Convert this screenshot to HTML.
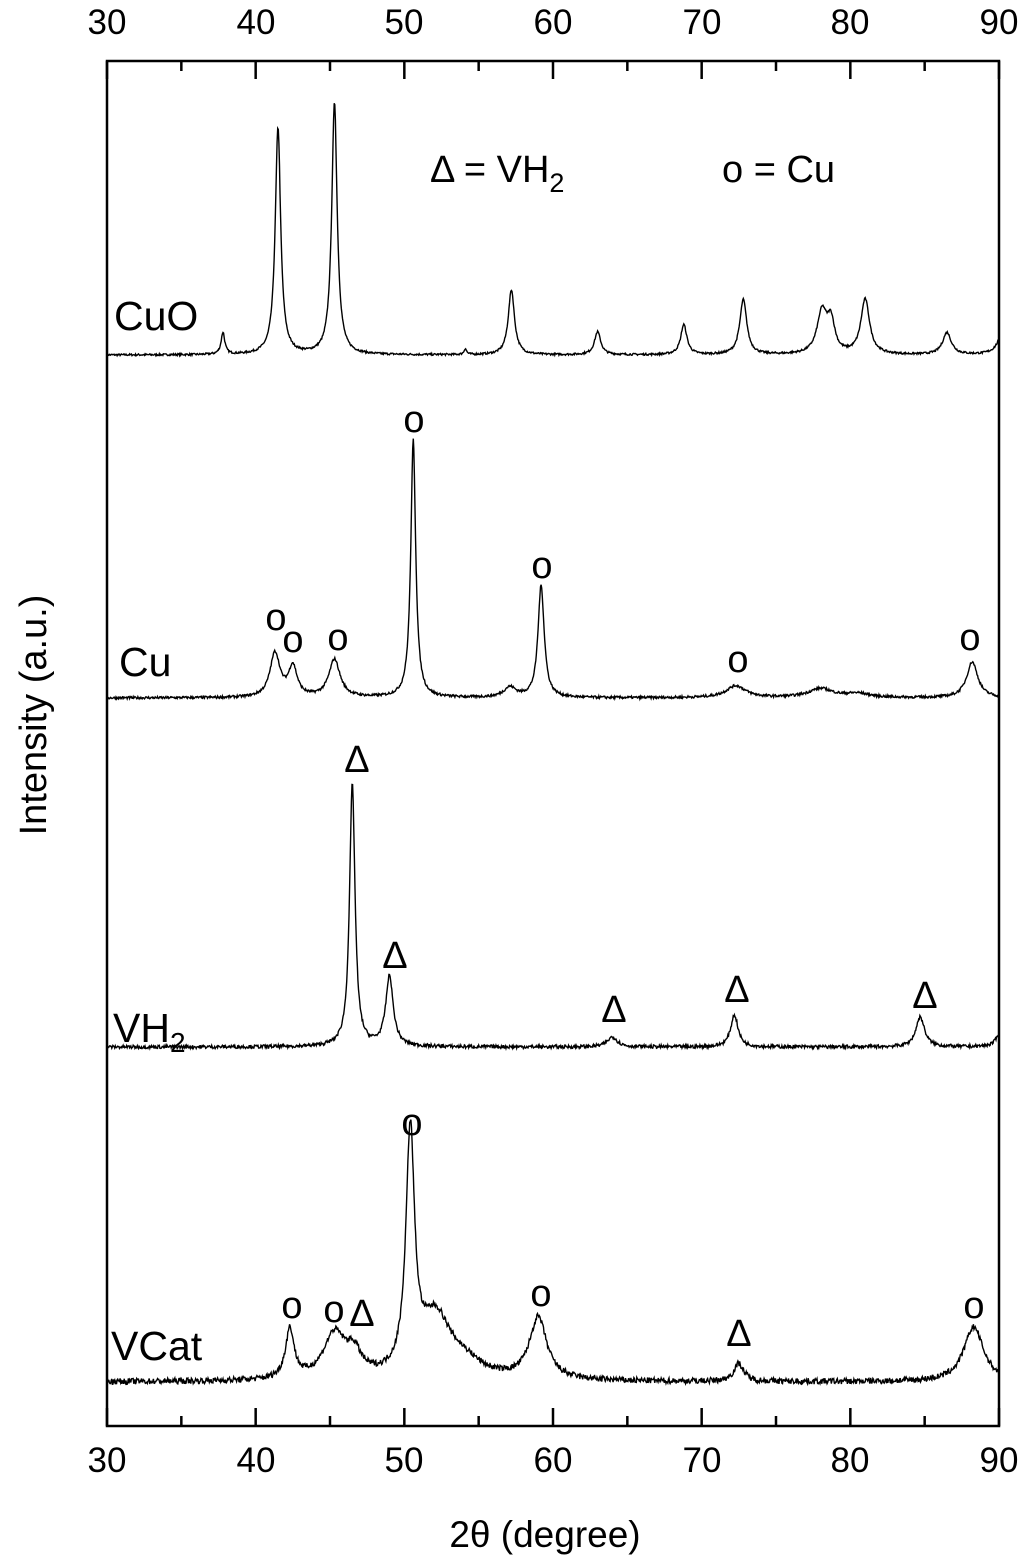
<!DOCTYPE html>
<html><head><meta charset="utf-8"><style>
html,body{margin:0;padding:0;background:#fff}
svg{display:block}
text{font-family:"Liberation Sans",Arial,sans-serif;fill:#000}
</style></head><body>
<svg id="s" width="1024" height="1567" viewBox="0 0 1024 1567" xmlns="http://www.w3.org/2000/svg">
<rect x="107" y="61" width="892" height="1365" fill="none" stroke="#000" stroke-width="2.5"/>
<g id="ticks" stroke="#000" stroke-width="2.5"></g>
<g font-size="35" text-anchor="middle">
<text x="107" y="34">30</text><text x="256" y="34">40</text><text x="404" y="34">50</text><text x="553" y="34">60</text><text x="702" y="34">70</text><text x="850" y="34">80</text><text x="999" y="34">90</text>
<text x="107" y="1472">30</text><text x="256" y="1472">40</text><text x="404" y="1472">50</text><text x="553" y="1472">60</text><text x="702" y="1472">70</text><text x="850" y="1472">80</text><text x="999" y="1472">90</text>
</g>
<text x="545" y="1547" font-size="37" text-anchor="middle">2θ (degree)</text>
<text transform="translate(46,715) rotate(-90)" font-size="38" text-anchor="middle">Intensity (a.u.)</text>
<g id="traces" fill="none" stroke="#000" stroke-width="1.4"></g>
<g font-size="41">
<text x="114" y="330">CuO</text>
<text x="119" y="676">Cu</text>
<text x="113" y="1042">VH<tspan font-size="28" dy="10">2</tspan></text>
<text x="111" y="1360">VCat</text>
</g>
<g font-size="38">
<text x="430" y="182">Δ = VH<tspan font-size="27" dy="10">2</tspan></text>
<text x="722" y="182">o = Cu</text>
</g>
<g font-size="38" text-anchor="middle">
<text x="414" y="432">o</text><text x="542" y="578">o</text>
<text x="276" y="630">o</text><text x="293" y="652">o</text><text x="338" y="650">o</text>
<text x="738" y="672">o</text><text x="970" y="650">o</text>
<text x="357" y="772">Δ</text><text x="395" y="968">Δ</text><text x="614" y="1022">Δ</text>
<text x="737" y="1002">Δ</text><text x="925" y="1008">Δ</text>
<text x="412" y="1135">o</text><text x="292" y="1318">o</text><text x="334" y="1322">o</text>
<text x="362" y="1326">Δ</text><text x="541" y="1306">o</text><text x="739" y="1346">Δ</text>
<text x="974" y="1318">o</text>
</g>
</svg>
<script>
var s=document.getElementById('traces'),tk=document.getElementById('ticks');
function X(t){return 107+(t-30)*892/60;}
var tt='';
for(var t=30;t<=90;t+=5){var x=X(t),L=(t%10==0)?18:10;
tt+='<line x1="'+x+'" y1="61" x2="'+x+'" y2="'+(61+L)+'"/><line x1="'+x+'" y1="1426" x2="'+x+'" y2="'+(1426-L)+'"/>';}
tk.innerHTML=tt;
var seed=7;function rnd(){seed=(seed*16807)%2147483647;return seed/2147483647-0.5;}
function tr(base,peaks,noise){
 var d='';
 for(var t=30;t<=90;t+=0.04){
  var y=0;
  for(var i=0;i<peaks.length;i++){var p=peaks[i],u=(t-p[0])/p[2];y+=p[1]/(1+u*u);}
  y+=rnd()*noise;
  d+=(d?'L':'M')+X(t).toFixed(1)+' '+(base-y).toFixed(1);
 }
 return '<path d="'+d+'"/>';
}
var h='';
h+=tr(355,[[37.8,22,0.15],[41.5,227,0.22],[45.3,252,0.22],[54.1,6,0.1],[57.2,65,0.25],[63,23,0.25],[68.8,30,0.25],[72.8,55,0.28],[78.1,42,0.4],[78.7,30,0.3],[81,55,0.35],[86.5,22,0.35],[90.3,25,0.4]],2);
h+=tr(698,[[41.3,44,0.4],[42.5,30,0.35],[45.3,38,0.45],[50.6,258,0.2],[57.1,10,0.5],[59.2,112,0.25],[72.3,12,0.8],[78,9,1],[80.5,4,1],[88.2,36,0.45]],2.5);
h+=tr(1047,[[46.5,262,0.22],[49,70,0.3],[64,10,0.4],[72.2,32,0.3],[84.7,30,0.35],[90.2,22,0.3]],3.5);
h+=tr(1382,[[42.3,50,0.35],[45.3,45,0.9],[46.6,22,0.6],[50.4,238,0.35],[52.1,60,1.2],[54,15,1.5],[59,62,0.7],[72.5,18,0.4],[88.3,55,0.8]],6);
s.innerHTML=h;
</script>
</body></html>
